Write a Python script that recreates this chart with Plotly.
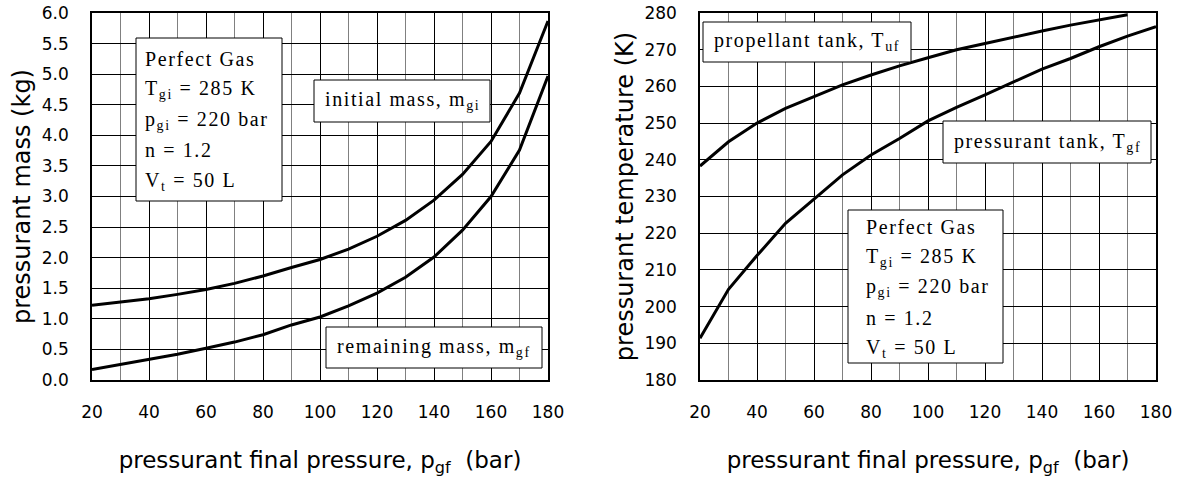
import plotly.graph_objects as go
from plotly.subplots import make_subplots

W, H = 1188, 479

# ---- data ----
p_gf = [20, 30, 40, 50, 60, 70, 80, 90, 100, 110, 120, 130, 140, 150, 160, 170, 180]
m_gi = [1.22, 1.27, 1.33, 1.40, 1.48, 1.58, 1.70, 1.84, 1.97, 2.14, 2.35, 2.61, 2.94, 3.36, 3.90, 4.69, 5.87]
m_gf = [0.17, 0.25, 0.33, 0.42, 0.52, 0.62, 0.74, 0.90, 1.03, 1.21, 1.42, 1.68, 2.01, 2.45, 3.00, 3.76, 4.97]

p_uf = [20, 30, 40, 50, 60, 70, 80, 90, 100, 110, 120, 130, 140, 150, 160, 170]
T_uf = [238.3, 244.9, 250.0, 254.0, 257.2, 260.4, 263.1, 265.6, 267.8, 270.0, 271.7, 273.5, 275.1, 276.7, 278.1, 279.5]
T_gf = [191.4, 204.7, 213.9, 222.7, 229.3, 235.9, 241.3, 245.8, 250.6, 254.3, 257.7, 261.3, 264.7, 267.6, 270.8, 273.7, 276.3]

x_ticks = [20, 40, 60, 80, 100, 120, 140, 160, 180]
mass_ticks = [0.0, 0.5, 1.0, 1.5, 2.0, 2.5, 3.0, 3.5, 4.0, 4.5, 5.0, 5.5, 6.0]
temp_ticks = [180, 190, 200, 210, 220, 230, 240, 250, 260, 270, 280]

info_lines = ["Perfect Gas", "T<sub>gi</sub> = 285 K", "p<sub>gi</sub> = 220 bar",
              "n = 1.2", "V<sub>t</sub> = 50 L"]

# ---- figure ----
def px(x):
    return x / W

def py(y):
    return 1 - y / H

fig = make_subplots(rows=1, cols=2)

line = dict(color="black", width=3)
fig.add_trace(go.Scatter(x=p_gf, y=m_gi, mode="lines", line=line, showlegend=False), row=1, col=1)
fig.add_trace(go.Scatter(x=p_gf, y=m_gf, mode="lines", line=line, showlegend=False), row=1, col=1)
fig.add_trace(go.Scatter(x=p_uf, y=T_uf, mode="lines", line=line, showlegend=False), row=1, col=2)
fig.add_trace(go.Scatter(x=p_gf, y=T_gf, mode="lines", line=line, showlegend=False), row=1, col=2)

tickfont = dict(family="DejaVu Sans", size=17, color="black")
xtitlefont = dict(family="DejaVu Sans", size=23, color="black")
ytitlefont = dict(family="DejaVu Sans", size=24, color="black")
xtitle = "pressurant final pressure, p<sub>gf</sub>  (bar)"

common_x = dict(range=[20, 180], tickvals=x_ticks, showgrid=True, gridcolor="black", gridwidth=1,
                minor=dict(dtick=10, showgrid=True, gridcolor="#808080", gridwidth=1),
                showline=True, linecolor="black", linewidth=1.5, mirror=True,
                zeroline=False, ticks="", tickfont=tickfont, ticklabelstandoff=16,
                automargin=False,
                title=dict(text=xtitle, font=xtitlefont, standoff=31))
fig.update_xaxes(domain=[px(92), px(548)], row=1, col=1, **common_x)
fig.update_xaxes(domain=[px(700), px(1156)], row=1, col=2, **common_x)

common_y = dict(showgrid=True, gridcolor="black", gridwidth=1,
                showline=True, linecolor="black", linewidth=1.5, mirror=True,
                zeroline=False, ticks="", tickfont=tickfont, ticklabelstandoff=18,
                automargin=False)
fig.update_yaxes(domain=[py(380), py(13)], row=1, col=1, range=[0, 6], tickvals=mass_ticks,
                 ticktext=[f"{v:.1f}" for v in mass_ticks],
                 title=dict(text="pressurant mass (kg)", font=ytitlefont, standoff=4), **common_y)
fig.update_yaxes(domain=[py(380), py(13)], row=1, col=2, range=[180, 280], tickvals=temp_ticks,
                 title=dict(text="pressurant temperature (K)", font=ytitlefont, standoff=4), **common_y)

serif = dict(family="Liberation Serif", size=20, color="black")

# boxes (pixel layout)
boxes = [
    (136, 38, 282, 201),     # left info
    (314, 80, 490, 122),     # initial mass
    (326, 327, 542, 368),    # remaining mass
    (703, 22, 911, 62),      # propellant tank
    (943, 121, 1151, 163),   # pressurant tank
    (848, 210, 1003, 363),   # right info
]
for x0, y0, x1, y1 in boxes:
    fig.add_shape(type="rect", xref="paper", yref="paper",
                  x0=px(x0), x1=px(x1), y0=py(y0), y1=py(y1),
                  line=dict(color="black", width=1), fillcolor="white", layer="above")

def spaced(t):
    return '<span style="letter-spacing:1.6px">' + t + '</span>'

def label(text, x, y, xanchor="left"):
    fig.add_annotation(text=spaced(text), xref="paper", yref="paper", x=px(x), y=py(y),
                       xanchor=xanchor, yanchor="middle", showarrow=False, font=serif)

for i, t in enumerate(info_lines):
    label(t, 143, 59 + i * 30.5)
    label(t, 864, 227 + i * 30.3)

label("initial mass, m<sub>gi</sub>", 402, 101, "center")
label("remaining mass, m<sub>gf</sub>", 434, 347, "center")
label("propellant tank, T<sub>uf</sub>", 807, 42, "center")
label("pressurant tank, T<sub>gf</sub>", 1047, 142, "center")

fig.update_layout(width=W, height=H, margin=dict(l=0, r=0, t=0, b=0),
                  plot_bgcolor="white", paper_bgcolor="white", showlegend=False)

fig.write_html("out.html")
